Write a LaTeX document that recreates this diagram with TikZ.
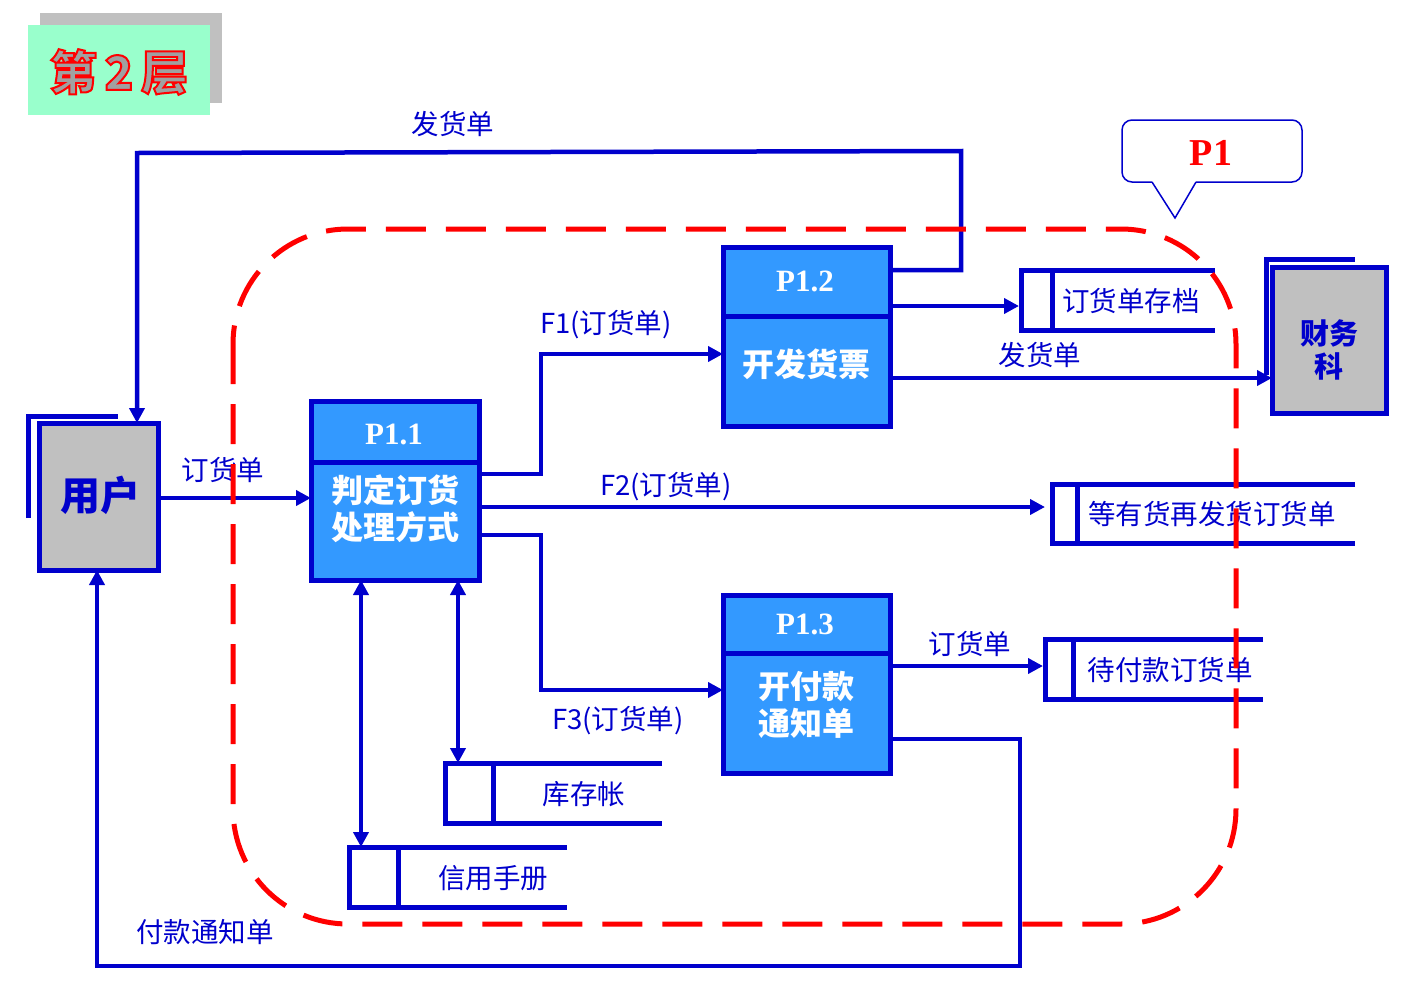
\documentclass[tikz,border=0pt]{standalone}
\usepackage{fontspec}
\setmainfont{Noto Sans CJK SC}
\newfontfamily\cjk{Noto Sans CJK SC}
\newfontfamily\tms{Liberation Serif}
\usetikzlibrary{arrows.meta}
\definecolor{cb}{HTML}{0000CC}
\definecolor{pfill}{HTML}{3399FF}
\definecolor{eg}{HTML}{C0C0C0}
\definecolor{tgreen}{HTML}{99FFCC}
\definecolor{tgray}{HTML}{A0A0A0}
\tikzset{
  flow/.style={cb, line width=4.5pt, -{Triangle[length=15pt,width=15pt]}},
  dflow/.style={cb, line width=4.5pt, {Triangle[length=15pt,width=15pt]}-{Triangle[length=15pt,width=15pt]}},
  proc/.style={draw=cb, fill=pfill, line width=5pt},
  ent/.style={draw=cb, fill=eg, line width=5pt},
  lbl/.style={text=cb, font=\cjk\fontsize{27.5}{30}\selectfont, inner sep=0pt},
  ptitle/.style={text=white, font=\tms\bfseries\fontsize{31}{34}\selectfont, inner sep=0pt},
  pbody/.style={text=white, font=\cjk\bfseries\fontsize{32}{37}\selectfont, align=center, inner sep=0pt},
  store/.style={cb, line width=5pt},
}
\begin{document}
\begin{tikzpicture}[x=1pt,y=-1pt]
\useasboundingbox (0,0) rectangle (1411,1007);
% title
\fill[eg] (40,13) rectangle (222,103);
\fill[tgreen] (28,25) rectangle (210,115);
\node[inner sep=0pt, font=\cjk\bfseries\fontsize{47}{50}\selectfont] (title) at (119,72) {\color{tgray}\special{pdf:literal direct 2 Tr 2 w 1 0 0 RG}第\,2\,层\special{pdf:literal direct 0 Tr}};
% external entities
\draw[cb, line width=5pt] (28,518) -- (28,416) -- (118,416);
\draw[ent] (39,423) rectangle (158,570);
\node[text=cb, font=\cjk\bfseries\fontsize{40}{44}\selectfont, inner sep=0pt] (user) at (100,495) {用户};
\coordinate (userE) at (158,498);
\coordinate (userN) at (137,423);
\coordinate (userS) at (97,570);
\draw[cb, line width=5pt] (1266,375) -- (1266,259) -- (1355,259);
\draw[ent] (1272,267) rectangle (1386,413);
\node[text=cb, font=\cjk\bfseries\fontsize{29}{33}\selectfont, align=center, inner sep=0pt] (fin) at (1329,350) {财务\\科};
\coordinate (finW) at (1272,378);
% processes
\draw[proc] (311,401) rectangle (479,580);
\draw[cb, line width=5pt] (311,462) -- (479,462);
\node[ptitle] (p11t) at (394,434) {P1.1};
\node[pbody] (p11) at (395,509) {判定订货\\处理方式};
\draw[proc] (723,247) rectangle (890,426);
\draw[cb, line width=5pt] (723,316) -- (890,316);
\node[ptitle] (p12t) at (805,281) {P1.2};
\node[pbody] (p12) at (806,364) {开发货票};
\draw[proc] (723,595) rectangle (890,773);
\draw[cb, line width=5pt] (723,653) -- (890,653);
\node[ptitle] (p13t) at (805,624) {P1.3};
\node[pbody] (p13) at (806,705) {开付款\\通知单};
% data stores
\draw[store] (1215,270) -- (1021,270) -- (1021,330) -- (1215,330);
\draw[store] (1052,270) -- (1052,330);
\node[lbl] (s1) at (1131,301) {订货单存档};
\draw[store] (1355,484) -- (1052,484) -- (1052,543) -- (1355,543);
\draw[store] (1077,484) -- (1077,543);
\node[lbl] (s2) at (1212,514) {等有货再发货订货单};
\draw[store] (1263,639) -- (1045,639) -- (1045,699) -- (1263,699);
\draw[store] (1073,639) -- (1073,699);
\node[lbl] (s3) at (1170,670) {待付款订货单};
\draw[store] (662,763) -- (445,763) -- (445,823) -- (662,823);
\draw[store] (493,763) -- (493,823);
\node[lbl] (s4) at (584,794) {库存帐};
\draw[store] (567,847) -- (349,847) -- (349,907) -- (567,907);
\draw[store] (398,847) -- (398,907);
\node[lbl] (s5) at (493,878) {信用手册};
% flows
\draw[flow] (890,270) -- (961,270) -- (961,151) -- (137,153) -- (userN);
\node[lbl] (l1) at (453,124) {发货单};
\draw[flow] (userE) -- (311,498);
\node[lbl] (l2) at (223,470) {订货单};
\draw[flow] (479,474) -- (541,474) -- (541,354) -- (723,354);
\node[lbl] (l3) at (606,325) {F1(订货单)};
\draw[flow] (479,507) -- (1045,507);
\node[lbl] (l4) at (666,487) {F2(订货单)};
\draw[flow] (479,535) -- (541,535) -- (541,690) -- (723,690);
\node[lbl] (l5) at (618,721) {F3(订货单)};
\draw[flow] (890,306) -- (1019,306);
\draw[flow] (890,378) -- (finW);
\node[lbl] (l6) at (1040,355) {发货单};
\draw[flow] (890,666) -- (1043,666);
\node[lbl] (l7) at (970,644) {订货单};
\draw[flow] (890,739) -- (1020,739) -- (1020,966) -- (97,966) -- (userS);
\node[lbl] (l8) at (205,932) {付款通知单};
\draw[dflow] (458,580) -- (458,763);
\draw[dflow] (361,580) -- (361,847);
% boundary
\draw[red, line width=5pt, dash pattern=on 40pt off 20pt, rounded corners=115pt] (233,229) rectangle (1236,924);
% callout
\draw[cb, line width=1.5pt, rounded corners=10pt, fill=white] (1152,182) -- (1122,182) -- (1122,120) -- (1302,120) -- (1302,182) -- (1196,182);
\draw[cb, line width=1.5pt] (1152,182) -- (1175,218) -- (1196,182);
\node[text=red, font=\tms\bfseries\fontsize{38}{42}\selectfont, inner sep=0pt] (p1) at (1211,153) {P1};
\end{tikzpicture}
\end{document}
